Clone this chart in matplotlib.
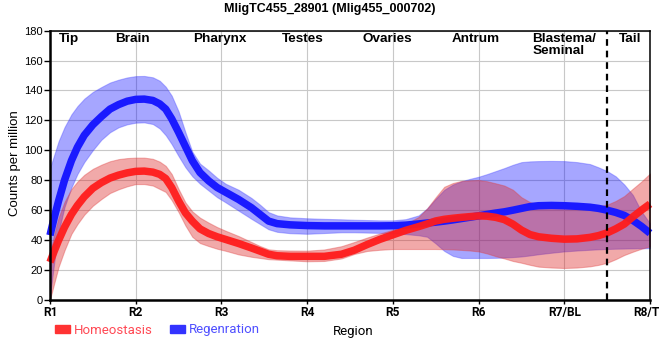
import matplotlib
matplotlib.use('Agg')
import matplotlib.pyplot as plt
from matplotlib.patches import Patch

plt.rcParams['font.family'] = ['Liberation Sans', 'DejaVu Sans']

TITLE = "MligTC455_28901 (Mlig455_000702)"
REGION_TICKS = ["R1", "R2", "R3", "R4", "R5", "R6", "R7/BL", "R8/TL"]
SECTIONS = ["Tip", "Brain", "Pharynx", "Testes", "Ovaries", "Antrum",
            "Blastema/\nSeminal", "Tail"]
SECTION_X = [1.22, 1.96, 2.98, 3.95, 4.94, 5.97, 7.0, 7.77]
TAIL_START = 7.5

# sample positions along the body axis (R1 = 1 ... R8 = 8)
X = [1.0, 1.05, 1.1, 1.17, 1.25, 1.32, 1.4, 1.5, 1.6, 1.7,
     1.8, 1.9, 2.0, 2.1, 2.2, 2.28, 2.35, 2.42, 2.5, 2.58,
     2.66, 2.75, 2.85, 2.95, 3.05, 3.2, 3.35, 3.45, 3.55, 3.65,
     3.8, 4.0, 4.2, 4.4, 4.55, 4.7, 4.85, 5.0, 5.15, 5.3,
     5.4, 5.5, 5.6, 5.7, 5.8, 5.9, 6.0, 6.1, 6.2, 6.3,
     6.4, 6.5, 6.6, 6.7, 6.85, 7.0, 7.15, 7.3, 7.4, 7.5,
     7.6, 7.7, 7.8, 7.9, 8.0]

# Regeneration
blue_mean = [43, 55, 66, 80, 93, 102, 110, 117, 122.5, 127.5,
             130.5, 132.8, 134, 134.2, 133.3, 131, 127.5, 121, 112, 102.5,
             93, 85, 79.5, 75, 71.8, 67, 61.5, 57, 52.5, 50.8,
             50, 49.5, 49.3, 49.3, 49.3, 49.3, 49.3, 49.4, 49.8, 50.6,
             51.2, 51.8, 52.5, 53.3, 54.2, 55.1, 56, 57, 57.9, 58.7,
             59.8, 61, 62.2, 62.8, 63, 62.8, 62.4, 61.8, 61, 59.8,
             58.3, 56.3, 53, 49, 44.4]
blue_upper = [88, 97, 106, 115.5, 124, 129.5, 134.5, 139, 142.3, 145.3,
              147.2, 148.7, 149.6, 149.7, 148.8, 146.5, 142.5, 136.5, 126, 112,
              99, 91, 86.5, 81.5, 77.5, 73.5, 68, 63.5, 58.5, 56.3,
              55, 54.4, 54, 53.7, 53.4, 53.2, 53, 53, 53.8, 56.3,
              61, 67.5, 73.5, 77, 79.2, 80.8, 82.2, 84, 86, 88,
              90.2, 92, 92.5, 92.7, 92.8, 92.7, 92, 90.7, 88.5, 86,
              82.5, 77, 70, 59, 51]
blue_lower = [2, 25, 45, 62, 75, 84, 92, 100, 107, 112,
              115.3, 117.3, 118.4, 118.6, 117.5, 114.5, 110, 104, 96, 88.5,
              82.5, 77.5, 73, 68.5, 65, 59.5, 54, 50.5, 47, 45.3,
              44.4, 44, 44.5, 45, 45, 44.8, 44.6, 44.4, 43.8, 43,
              42, 37.5, 32.5, 29.2, 27.8, 27.8, 27.8, 27.8, 27.9, 28.1,
              28.4, 28.8, 29.5, 30.3, 31.3, 32.2, 32.8, 33.3, 33.6, 33.8,
              34, 34.1, 34.2, 34.3, 34.4]

# Homeostasis
red_mean = [25, 32.5, 39.6, 48.5, 57, 63, 68.8, 74.5, 78.3, 81.3,
            83.3, 84.8, 85.8, 86, 85.3, 83.8, 81, 75, 66, 58,
            52.5, 47.3, 44.2, 42, 40.2, 37.5, 34.5, 32.4, 30.3, 29.3,
            28.9, 28.9, 28.9, 30.3, 33, 36.8, 40.3, 43.3, 46.3, 48.8,
            50.6, 52.6, 53.7, 54.4, 55, 55.5, 56, 55.8, 55, 53.5,
            50.5, 46.5, 43.5, 42, 41, 40.4, 40.6, 41.6, 42.8, 44.6,
            47.3, 50.5, 55.3, 59.8, 64]
red_upper = [31, 44, 55, 65.5, 74, 79, 83.5, 87.5, 90.3, 92.6,
             94, 94.7, 95, 95, 94.2, 92.3, 89.5, 84, 74, 65,
             59, 54.8, 51.5, 48.5, 46, 42.5, 38.5, 35.8, 33.6, 33,
             32.8, 32.7, 33.5, 35.7, 38.5, 41.5, 44.2, 46.7, 50.5, 55.3,
             61, 68.5, 75.5, 78, 79.4, 79.8, 80, 79.2, 77.8, 76.3,
             73.5, 68.5, 65.2, 63.5, 62.4, 61.8, 61.7, 61.9, 62.5, 63.5,
             66, 69.3, 74.2, 79, 84.4]
red_lower = [0, 11, 21.8, 33, 44, 50.5, 56.8, 62.8, 67.3, 71.3,
             73.8, 75.8, 77.3, 77.3, 76.3, 74, 72, 66.5, 58.5, 49.5,
             42, 37.8, 35.8, 34, 32.6, 30.2, 28.6, 27.8, 27, 26.7,
             26.2, 25.6, 25.8, 27.5, 30.5, 32.5, 33.3, 33.8, 33.8, 33.8,
             33.8, 33.8, 33.7, 33.5, 33.2, 32.8, 32.2, 30.8, 29, 27.5,
             25.8, 24.6, 23.2, 22, 21.4, 21.1, 21.4, 22.2, 23.2, 24.6,
             27, 29.8, 32, 34, 35.6]

fig = plt.figure(figsize=(6.6, 3.6), dpi=100)
ax = fig.add_axes([50 / 660, 1 - 299.5 / 360, 600 / 660, 268.8 / 360])

# regeneration first, homeostasis drawn over it
ax.fill_between(X, blue_lower, blue_upper, color='#0000ff', alpha=0.35, lw=0.8,
                edgecolor='#4040ff')
ax.plot(X, blue_mean, color='#1a1aff', lw=5.4, solid_capstyle='butt',
        solid_joinstyle='round', clip_on=False)
ax.fill_between(X, red_lower, red_upper, color='#dc1e1e', alpha=0.38, lw=0.8,
                edgecolor='#e04040')
ax.plot(X, red_mean, color='#ff1c1c', lw=5.4, alpha=0.95, solid_capstyle='butt',
        solid_joinstyle='round', clip_on=False)

ax.axvline(TAIL_START, color='black', lw=1.6, ls=(0, (3, 2.2)))

ax.set_xlim(1, 8)
ax.set_ylim(0, 180)
ax.set_xticks(range(1, 9))
ax.set_xticklabels(REGION_TICKS, fontfamily='Roboto', fontweight='bold', fontsize=8.6)
ax.set_yticks(range(0, 181, 20))
ax.tick_params(axis='x', length=3, width=1, pad=2)
ax.tick_params(axis='y', length=4, width=1, pad=1, labelsize=8)
ax.grid(color='#c8c8c8', lw=0.8)
ax.set_axisbelow(True)
for side in ['left', 'bottom']:
    ax.spines[side].set_linewidth(1.8)
for side in ['top', 'right']:
    ax.spines[side].set_linewidth(1.1)

for name, xpos in zip(SECTIONS, SECTION_X):
    ax.text(xpos, 178.3, name, ha='center', va='top', multialignment='left',
            fontsize=9.7, fontweight='bold', linespacing=1.0)

fig.text(0.5, 1 - 9 / 360, TITLE, ha='center', va='center', fontsize=9,
         fontweight='bold')
fig.text(15 / 660, 1 - 163 / 360, "Counts per million", rotation=90,
         ha='center', va='center', fontsize=9.5)
fig.text(353 / 660, 1 - 331 / 360, "Region", ha='center', va='center',
         fontfamily='Roboto', fontsize=9.5)

handles = [Patch(color='#ff3333', label='Homeostasis'),
           Patch(color='#3333ff', label='Regenration')]
fig.legend(handles=handles, loc='center left', bbox_to_anchor=(55 / 660, 1 - 330 / 360),
           ncol=2, frameon=False, handlelength=1.15, handleheight=0.55,
           handletextpad=0.3, columnspacing=1.3, borderpad=0, borderaxespad=0,
           labelcolor=['#ff4a55', '#5050ff'],
           prop={'family': 'Roboto', 'size': 9.5})

fig.savefig('out.png', dpi=100)
